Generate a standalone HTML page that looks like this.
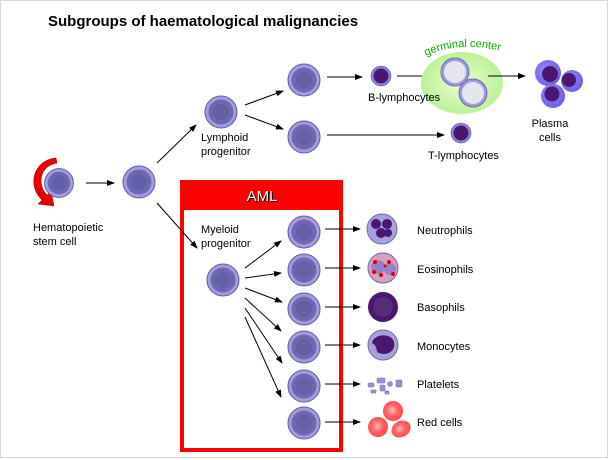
<!DOCTYPE html>
<html><head><meta charset="utf-8"><style>
html,body{margin:0;padding:0;background:#fff}
svg{display:block}
text{font-family:"Liberation Sans",sans-serif}
</style></head><body>
<svg width="615" height="460" viewBox="0 0 615 460" xmlns="http://www.w3.org/2000/svg">
<defs>
<marker id="a" markerWidth="8" markerHeight="6" refX="7" refY="3" orient="auto" markerUnits="userSpaceOnUse"><path d="M0,0 L8,3 L0,6 z" fill="#000"/></marker>
<radialGradient id="rb" cx="45%" cy="45%" r="55%"><stop offset="0" stop-color="#ffc0c0"/><stop offset="0.5" stop-color="#ff6666"/><stop offset="1" stop-color="#ff4a4a"/></radialGradient>
<radialGradient id="gc" cx="50%" cy="50%" r="55%"><stop offset="0" stop-color="#e8ffd0"/><stop offset="1" stop-color="#b8f090"/></radialGradient>
<radialGradient id="pc" cx="40%" cy="40%" r="60%"><stop offset="0" stop-color="#9a8cf5"/><stop offset="1" stop-color="#6f5ee8"/></radialGradient>
<g id="cell"><circle r="16" fill="#a09ce0" stroke="#5e58a0" stroke-width="1"/><circle r="12.5" fill="#6c67b0"/><circle r="8" fill="#5f5aa5" opacity="0.6"/></g>
<g id="lym"><circle r="10" fill="#8a84dd" stroke="#5e58a0" stroke-width="0.6"/><circle r="7.5" fill="#4a1670"/></g>
<g id="gcell"><circle r="14" fill="#9e9ae0" stroke="#6f6ab0"/><circle r="11" fill="#e6e6ee"/></g>
</defs>
<rect x="0.5" y="0.5" width="607" height="457" fill="#fff" stroke="#d8d8d8"/>
<text x="48" y="26" font-size="15" font-weight="bold">Subgroups of haematological malignancies</text>

<!-- stem -->
<path d="M56,158 C33,160 27,186 42,200 L38,204 L54,206 L51,191 L47,195 C37,185 39,166 57,163 Z" fill="#e80000" stroke="#900" stroke-width="0.5"/>
<g transform="translate(59 183) scale(0.9)"><use href="#cell"/></g>
<line x1="86" y1="183" x2="114" y2="183" stroke="#000" marker-end="url(#a)"/>
<use href="#cell" x="139" y="182"/>
<text x="33" y="231" font-size="11">Hematopoietic</text>
<text x="33" y="245" font-size="11">stem cell</text>

<!-- lymphoid -->
<line x1="157" y1="163" x2="196" y2="125" stroke="#000" marker-end="url(#a)"/>
<use href="#cell" x="221" y="112"/>
<text x="201" y="141" font-size="11">Lymphoid</text>
<text x="201" y="155" font-size="11">progenitor</text>
<line x1="245" y1="105" x2="283" y2="91" stroke="#000" marker-end="url(#a)"/>
<line x1="245" y1="115" x2="283" y2="129" stroke="#000" marker-end="url(#a)"/>
<use href="#cell" x="304" y="80"/>
<use href="#cell" x="304" y="137"/>
<line x1="327" y1="77" x2="362" y2="77" stroke="#000" marker-end="url(#a)"/>
<use href="#lym" x="381" y="76"/>
<line x1="397" y1="76" x2="432" y2="76" stroke="#000" marker-end="url(#a)"/>
<ellipse cx="462" cy="83" rx="41" ry="31" fill="url(#gc)"/>
<path id="arc" d="M426,56 Q460,40 505,52" fill="none"/>
<text font-size="11" fill="#00b000"><textPath href="#arc">germinal center</textPath></text>
<use href="#gcell" x="455" y="72"/>
<use href="#gcell" x="473" y="93"/>
<text x="368" y="101" font-size="11">B-lymphocytes</text>
<line x1="488" y1="76" x2="525" y2="76" stroke="#000" marker-end="url(#a)"/>
<circle cx="548" cy="73" r="13" fill="url(#pc)"/><circle cx="550" cy="74" r="8" fill="#4a1670"/>
<circle cx="572" cy="81" r="11" fill="url(#pc)"/><circle cx="569" cy="80" r="7" fill="#4a1670"/>
<circle cx="553" cy="96" r="12" fill="url(#pc)"/><circle cx="552" cy="94" r="7.5" fill="#4a1670"/>
<text x="550" y="127" font-size="11" text-anchor="middle">Plasma</text>
<text x="550" y="141" font-size="11" text-anchor="middle">cells</text>
<line x1="327" y1="135" x2="444" y2="135" stroke="#000" marker-end="url(#a)"/>
<use href="#lym" x="461" y="133"/>
<text x="428" y="159" font-size="11">T-lymphocytes</text>

<!-- AML box -->
<rect x="182" y="182" width="159" height="268" fill="none" stroke="#ff0000" stroke-width="4"/>
<rect x="180" y="180" width="163" height="30" fill="#ff0000"/>
<text x="263" y="202" font-size="15" text-anchor="middle" fill="#000">AML</text>
<text x="262" y="201" font-size="15" text-anchor="middle" fill="#fff">AML</text>

<line x1="157" y1="203" x2="197" y2="248" stroke="#000" marker-end="url(#a)"/>
<text x="201" y="233" font-size="11">Myeloid</text>
<text x="201" y="247" font-size="11">progenitor</text>
<use href="#cell" x="223" y="280"/>
<g stroke="#000" marker-end="url(#a)">
<line x1="245" y1="268" x2="281" y2="241"/>
<line x1="245" y1="278" x2="281" y2="273"/>
<line x1="245" y1="288" x2="282" y2="302"/>
<line x1="245" y1="298" x2="281" y2="331"/>
<line x1="245" y1="308" x2="282" y2="363"/>
<line x1="245" y1="317" x2="281" y2="397"/>
</g>
<use href="#cell" x="304" y="232"/>
<use href="#cell" x="304" y="270"/>
<use href="#cell" x="304" y="309"/>
<use href="#cell" x="304" y="347"/>
<use href="#cell" x="304" y="386"/>
<use href="#cell" x="304" y="423"/>
<g stroke="#000" marker-end="url(#a)">
<line x1="325" y1="229" x2="360" y2="229"/>
<line x1="325" y1="268" x2="360" y2="268"/>
<line x1="325" y1="307" x2="360" y2="307"/>
<line x1="325" y1="345" x2="360" y2="345"/>
<line x1="325" y1="384" x2="360" y2="384"/>
<line x1="325" y1="422" x2="360" y2="422"/>
</g>
<!-- mature cells -->
<circle cx="382" cy="229" r="15" fill="#a8a0dc" stroke="#6f6ab0"/>
<circle cx="376" cy="224" r="5" fill="#4a1670"/><circle cx="387" cy="224" r="5" fill="#4a1670"/><circle cx="381" cy="233" r="5" fill="#4a1670"/><circle cx="388" cy="233" r="4" fill="#4a1670"/>
<circle cx="383" cy="268" r="15" fill="#d8a0c0" stroke="#6f6ab0"/>
<circle cx="378" cy="267" r="7" fill="#9a80c8"/><circle cx="390" cy="269" r="6" fill="#9a80c8"/>
<g fill="#e00000"><circle cx="375" cy="262" r="2"/><circle cx="381" cy="275" r="2"/><circle cx="389" cy="262" r="2"/><circle cx="393" cy="274" r="2"/><circle cx="374" cy="272" r="2"/><circle cx="385" cy="266" r="1.5"/></g>
<circle cx="383" cy="307" r="15" fill="#4a1670"/><circle cx="383" cy="307" r="10" fill="#5a2a80"/>
<circle cx="383" cy="345" r="15" fill="#a8a0dc" stroke="#6f6ab0"/>
<path d="M372,343 C374,333 392,333 394,342 C396,352 386,356 379,353 C375,351 378,346 372,343Z" fill="#4a1670"/>
<g fill="#9a90d8" stroke="#6f6ab0" stroke-width="0.5">
<rect x="368" y="383" width="6" height="4" rx="1"/><rect x="377" y="378" width="8" height="5" rx="1"/><rect x="380" y="385" width="5" height="6" rx="1"/><circle cx="390" cy="384" r="2.5"/><rect x="396" y="380" width="6" height="7" rx="1"/><rect x="371" y="390" width="5" height="3"/><rect x="385" y="391" width="4" height="3"/>
</g>
<circle cx="393" cy="411" r="10" fill="url(#rb)"/>
<circle cx="378" cy="427" r="10" fill="url(#rb)"/>
<ellipse cx="401" cy="429" rx="10" ry="8" fill="url(#rb)" transform="rotate(-30 401 429)"/>
<g font-size="11">
<text x="417" y="234">Neutrophils</text>
<text x="417" y="273">Eosinophils</text>
<text x="417" y="311">Basophils</text>
<text x="417" y="350">Monocytes</text>
<text x="417" y="388">Platelets</text>
<text x="417" y="426">Red cells</text>
</g>
</svg>
</body></html>
